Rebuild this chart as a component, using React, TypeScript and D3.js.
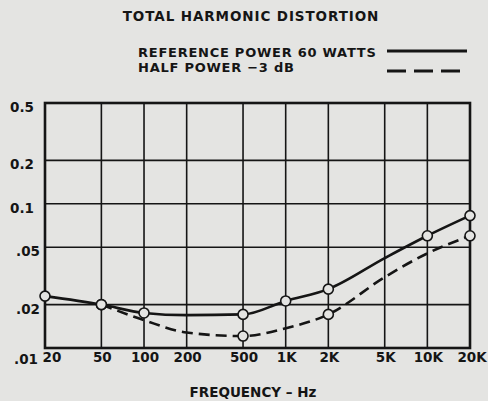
import React, { useEffect, useRef } from "react";
import * as d3 from "d3";

// frequency points (Hz)
const freqs = [20, 50, 100, 200, 500, 1000, 2000, 5000, 10000, 20000];
// THD % at reference power 60 W (solid)
const refPower = [0.0229, 0.02, 0.0175, 0.0169, 0.0171, 0.0212, 0.0256, 0.042, 0.06, 0.0828];
// THD % at half power -3 dB (dashed), starts at 50 Hz
const halfFreqs = [50, 100, 200, 500, 1000, 2000, 5000, 10000, 20000];
const halfPower = [0.02, 0.0156, 0.0128, 0.0121, 0.0137, 0.0171, 0.031, 0.0453, 0.06];
// which points carry a circle marker
const refMarked = [20, 50, 100, 500, 1000, 2000, 10000, 20000];
const halfMarked = [50, 500, 2000, 20000];

const xTicks = [20, 50, 100, 200, 500, 1000, 2000, 5000, 10000, 20000];
const xTickLabels = ["20", "50", "100", "200", "500", "1K", "2K", "5K", "10K", "20K"];
const yTicks = [0.01, 0.02, 0.05, 0.1, 0.2, 0.5];
const yTickLabels = [".01", ".02", ".05", "0.1", "0.2", "0.5"];

const W = 488, H = 401;
const ink = "#151515";
const paper = "#e4e4e2";
const font = "'DejaVu Sans', Verdana, sans-serif";

export default function App() {
  const ref = useRef<SVGSVGElement>(null);

  useEffect(() => {
    const margin = { top: 103, right: 18, bottom: 53, left: 45 };
    const x = d3.scaleLog().domain([20, 20000]).range([margin.left, W - margin.right]);
    const y = d3.scaleLog().domain([0.01, 0.5]).range([H - margin.bottom, margin.top]);

    const svg = d3.select(ref.current);
    svg.html("");

    svg.append("rect").attr("width", W).attr("height", H).attr("fill", paper);

    const label = (sel: any, size = 13.5) => sel
      .style("font-family", font).style("font-weight", "bold").style("font-size", size + "px")
      .attr("fill", ink);

    // title + legend
    svg.append("text")
      .attr("x", 251).attr("y", 21)
      .attr("text-anchor", "middle")
      .call(label)
      .style("letter-spacing", "0.9px")
      .text("TOTAL HARMONIC DISTORTION");

    const legend = [
      { label: "REFERENCE POWER 60 WATTS", y: 57, ly: 51, dash: null },
      { label: "HALF POWER \u22123 dB", y: 72, ly: 71, dash: "19,8" },
    ];
    legend.forEach(l => {
      svg.append("text")
        .attr("x", 138).attr("y", l.y)
        .call(label, 13)
        .style("letter-spacing", "0.75px")
        .text(l.label);
      svg.append("line")
        .attr("x1", 387).attr("x2", 467)
        .attr("y1", l.ly).attr("y2", l.ly)
        .attr("stroke", ink).attr("stroke-width", 3)
        .attr("stroke-dasharray", l.dash);
    });

    // grid
    const grid = svg.append("g").attr("stroke", ink).attr("stroke-width", 1.6);
    grid.selectAll("line.v").data(xTicks).enter().append("line")
      .attr("x1", d => x(d)).attr("x2", d => x(d))
      .attr("y1", y(0.5)).attr("y2", y(0.01));
    grid.selectAll("line.h").data(yTicks).enter().append("line")
      .attr("x1", x(20)).attr("x2", x(20000))
      .attr("y1", d => y(d)).attr("y2", d => y(d));
    svg.append("rect")
      .attr("x", x(20)).attr("y", y(0.5))
      .attr("width", x(20000) - x(20)).attr("height", y(0.01) - y(0.5))
      .attr("fill", "none").attr("stroke", ink).attr("stroke-width", 2.6);

    // y labels
    svg.append("g").selectAll("text").data(yTicks).enter().append("text")
      .attr("x", (d, i) => i === 0 ? 38 : yTickLabels[i].startsWith(".") ? 40 : 34)
      .attr("y", (d, i) => y(d) + (i === 0 ? 16 : 9))
      .attr("text-anchor", "end")
      .call(label)
      .text((d, i) => yTickLabels[i]);

    // x labels
    svg.append("g").selectAll("text").data(xTicks).enter().append("text")
      .attr("x", (d, i) => x(d) + (i === 0 ? 7 : i === xTicks.length - 1 ? 2 : 1))
      .attr("y", 362)
      .attr("text-anchor", "middle")
      .call(label)
      .text((d, i) => xTickLabels[i]);

    svg.append("text")
      .attr("x", 253).attr("y", 397)
      .attr("text-anchor", "middle")
      .call(label)
      .text("FREQUENCY \u2013 Hz");

    // curves
    const line = d3.line<[number, number]>()
      .x(d => x(d[0])).y(d => y(d[1]))
      .curve(d3.curveMonotoneX);

    const refData: [number, number][] = freqs.map((f, i) => [f, refPower[i]]);
    const halfData: [number, number][] = halfFreqs.map((f, i) => [f, halfPower[i]]);

    svg.append("path").datum(halfData)
      .attr("d", line).attr("fill", "none")
      .attr("stroke", ink).attr("stroke-width", 2.6)
      .attr("stroke-dasharray", "11,6");
    svg.append("path").datum(refData)
      .attr("d", line).attr("fill", "none")
      .attr("stroke", ink).attr("stroke-width", 2.6);

    const marks = [
      ...refData.filter(d => refMarked.includes(d[0])),
      ...halfData.filter(d => halfMarked.includes(d[0])),
    ];
    svg.append("g").selectAll("circle").data(marks).enter().append("circle")
      .attr("cx", d => x(d[0])).attr("cy", d => y(d[1]))
      .attr("r", 5)
      .attr("fill", paper).attr("stroke", ink).attr("stroke-width", 1.6);
  }, []);

  return (
    <svg ref={ref} width={W} height={H}
      style={{ position: "absolute", left: 0, top: 0, display: "block" }} />
  );
}
